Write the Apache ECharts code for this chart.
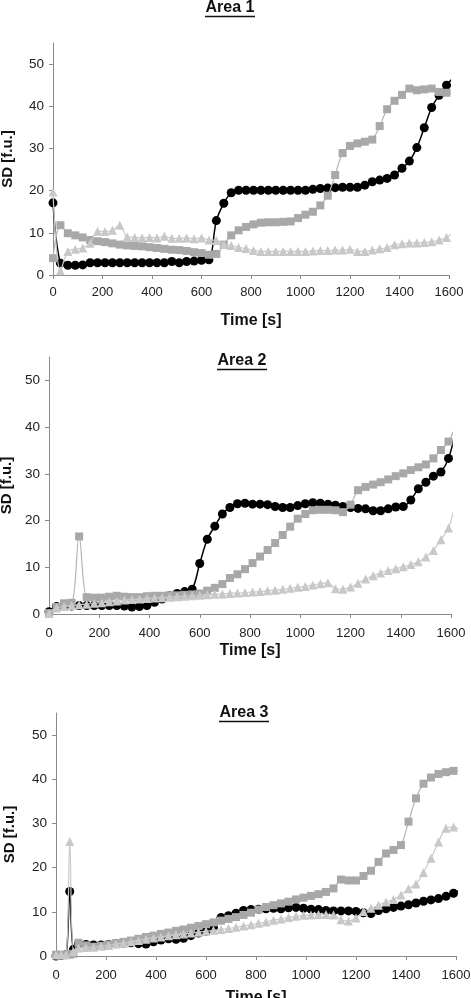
<!DOCTYPE html>
<html><head><meta charset="utf-8">
<script src="https://cdn.jsdelivr.net/npm/echarts@6/dist/echarts.min.js"></script>
<style>html,body{margin:0;padding:0;background:#fff}#c{width:471px;height:998px}</style>
</head><body><div id="c"></div>
<script>
// time stamps (s)
const T12 = [0,30,60,90,120,150,180,210,240,270,300,330,360,390,420,450,480,510,540,570,600,630,660,690,720,750,780,810,840,870,900,930,960,990,1020,1050,1080,1110,1140,1170,1200,1230,1260,1290,1320,1350,1380,1410,1440,1470,1500,1530,1560,1590,1615];
const T3 = [0,20,40,55,70,90,120,150,180,210,240,270,300,330,360,390,420,450,480,510,540,570,600,630,660,690,720,750,780,810,840,870,900,930,960,990,1020,1050,1080,1110,1140,1170,1200,1230,1260,1290,1320,1350,1380,1410,1440,1470,1500,1530,1560,1590,1615];

// Area 1
const A1_circle = [17.1,2.8,2.3,2.3,2.4,2.9,2.9,2.9,2.9,2.9, 2.9,2.9,2.9,2.9,2.9,2.9,3.2,2.9,3.2,3.3, 3.5,3.6,12.9,17.0,19.5,20.1,20.1,20.1,20.1,20.1, 20.1,20.1,20.1,20.1,20.1,20.3,20.5,20.6,20.7,20.8, 20.8,20.8,21.3,22.1,22.5,22.9,23.7,25.3,27.0,30.2, 34.9,39.7,42.6,45.0,46.6];
const A1_square = [4.0,11.8,9.9,9.4,8.9,8.3,8.0,7.8,7.5,7.2, 7.0,6.9,6.8,6.6,6.4,6.2,6.0,5.9,5.7,5.4, 5.2,4.8,5.0,7.2,9.4,10.6,11.4,12.0,12.4,12.5, 12.5,12.6,12.7,13.5,14.3,15.0,16.5,18.8,23.7,28.9, 30.6,31.2,31.6,32.1,35.3,39.3,41.3,42.7,44.2,43.8, 44.0,44.2,43.4,43.2,43.0];
const A1_triangle = [19.7,1.0,5.6,6.1,6.4,7.5,10.4,10.3,10.6,11.8, 9.0,8.9,8.8,8.9,8.8,9.2,8.7,8.7,8.8,8.6, 8.8,8.3,8.2,7.3,7.0,6.5,6.3,5.8,5.6,5.6, 5.6,5.6,5.6,5.6,5.6,5.7,5.8,5.8,5.9,5.9, 6.1,5.6,5.6,5.9,6.2,6.5,7.2,7.4,7.6,7.6, 7.7,7.9,8.3,8.9,10.0];

// Area 2
const A2_circle = [0.5,1.6,1.7,1.7,1.8,1.8,1.8,1.8,1.8,1.8, 1.7,1.5,1.6,1.8,2.5,3.2,3.9,4.4,4.8,5.3, 10.8,16.0,18.8,21.4,22.8,23.6,23.7,23.5,23.5,23.4, 23.0,22.8,22.8,23.2,23.6,23.8,23.7,23.5,23.3,23.0, 22.8,22.6,22.5,22.1,22.1,22.5,22.9,23.0,24.4,26.8, 28.2,29.5,30.4,33.3,38.4];
const A2_square = [0.2,1.5,2.3,2.4,16.6,3.6,3.5,3.5,3.7,3.9, 3.7,3.6,3.6,3.8,3.9,3.9,4.0,4.0,4.1,4.2, 4.4,5.0,5.6,6.4,7.7,8.5,9.6,10.9,12.3,13.7, 15.2,16.9,18.7,20.4,21.4,22.2,22.3,22.3,22.2,21.8, 23.4,26.5,27.2,27.7,28.2,28.8,29.5,30.1,30.8,31.4, 32.0,33.3,35.1,36.9,39.8];
const A2_triangle = [0.1,1.3,1.6,1.8,2.0,2.1,2.3,2.4,2.6,2.8, 3.0,3.1,3.2,3.3,3.4,3.5,3.6,3.7,3.8,3.9, 4.0,4.1,4.2,4.3,4.4,4.5,4.6,4.7,4.8,5.0, 5.1,5.3,5.5,5.7,5.9,6.2,6.5,6.7,5.4,5.3, 5.8,6.6,7.5,8.2,8.8,9.3,9.7,10.1,10.6,11.2, 12.2,13.6,15.9,18.4,23.1];

// Area 3
const A3_circle = [0.0,0.1,0.3,14.6,1.5,2.8, 2.6,2.5,2.5,2.6,2.8,2.9,3.0,2.8,2.7,3.2, 3.6,3.9,3.8,4.0,4.6,5.2,5.6,6.5,8.7,9.1, 9.7,10.3,10.5,10.6,10.7,10.8,10.7,10.9,11.0,10.8, 10.6,10.5,10.3,10.2,10.2,10.2,10.1,9.8,9.6,10.3, 10.7,11.0,11.3,11.6,12.0,12.4,12.7,13.0,13.5,14.2, 14.9];
const A3_square = [0.3,0.3,0.3,0.3,0.5,3.0, 2.4,2.1,2.3,2.6,2.9,3.2,3.5,3.9,4.3,4.6, 5.0,5.3,5.7,6.0,6.4,6.8,7.2,7.6,8.0,8.4, 8.8,9.3,9.8,10.5,11.1,11.5,11.9,12.3,12.8,13.2, 13.6,14.0,14.5,15.3,17.3,17.1,17.1,18.1,19.3,21.3, 23.2,24.0,25.1,30.4,35.7,39.0,40.4,41.2,41.6,41.9, 41.7];
const A3_triangle = [0.2,0.2,0.3,25.9,1.0,1.8, 1.9,2.0,2.2,2.4,2.7,2.9,3.2,3.5,3.8,4.1, 4.3,4.6,4.8,5.0,5.2,5.4,5.6,5.8,6.0,6.2, 6.5,6.8,7.1,7.4,7.7,8.1,8.4,8.7,9.0,9.2, 9.3,9.4,9.4,9.3,8.2,7.9,8.6,10.1,10.8,11.5, 12.2,12.8,13.8,15.2,16.3,18.9,22.1,25.8,28.9,29.2, 28.6];

const Y_TICKS = [0,10,20,30,40,50];
const X_LABEL = 'Time [s]';
const Y_LABEL = 'SD [f.u.]';
const TITLES = ['Area 1','Area 2','Area 3'];

const FONT = 'Liberation Sans, Arial, sans-serif';

function pts(T, V){
  return T.map((t,i)=> i === T.length-1 ? {value:[t,V[i]], symbol:'none'} : [t,V[i]]);
}

const grids = [
  {left:53, right:22, top:43, bottom:723, outerBoundsMode:'none', containLabel:false},
  {left:49, right:20, top:357, bottom:384, outerBoundsMode:'none', containLabel:false},
  {left:56, right:15, top:713, bottom:42, outerBoundsMode:'none', containLabel:false}
];
const xGaps = [38, 29, 34];
const yGaps = [38, 34, 39];

const xAxes = grids.map((g,i)=>({
  type:'value', gridIndex:i, min:0, max:1600, interval:200,
  axisLine:{lineStyle:{color:'#8a8a8a', width:1}},
  axisTick:{length:4, lineStyle:{color:'#8a8a8a'}},
  splitLine:{show:false},
  axisLabel:{color:'#222', fontSize:13, fontFamily:FONT, margin:i===0?11:13, formatter:(v)=>String(v)},
  name:X_LABEL, nameLocation:'middle', nameGap:xGaps[i],
  nameTextStyle:{fontWeight:'bold', fontSize:16, color:'#111', fontFamily:FONT}
}));
const yAxes = grids.map((g,i)=>({
  type:'value', gridIndex:i, min:0, max:55, interval:10,
  axisLine:{show:true, lineStyle:{color:'#8a8a8a', width:1}},
  axisTick:{show:true, length:4, lineStyle:{color:'#8a8a8a'}, customValues:Y_TICKS},
  splitLine:{show:false},
  axisLabel:{color:'#222', fontSize:13.5, fontFamily:FONT, margin:9, customValues:Y_TICKS, formatter:(v)=>String(v)},
  name:Y_LABEL, nameLocation:'middle', nameGap:yGaps[i], nameRotate:90,
  nameTextStyle:{fontWeight:'bold', fontSize:15, color:'#111', fontFamily:FONT}
}));

const panels = [
  [T12, A1_circle, A1_square, A1_triangle],
  [T12, A2_circle, A2_square, A2_triangle],
  [T3, A3_circle, A3_square, A3_triangle]
];
const series = [];
panels.forEach((p,i)=>{
  const T = p[0];
  series.push({type:'line', xAxisIndex:i, yAxisIndex:i, data:pts(T,p[1]), smooth:0.35, clip:false,
    symbol:'circle', symbolSize:9, itemStyle:{color:'#000'}, lineStyle:{color:'#000', width:1.5}, z:2});
  series.push({type:'line', xAxisIndex:i, yAxisIndex:i, data:pts(T,p[2]), smooth:0.35, clip:false,
    symbol:'rect', symbolSize:8, itemStyle:{color:'#a8a8a8'}, lineStyle:{color:'#b4b4b4', width:1.2}, z:3});
  series.push({type:'line', xAxisIndex:i, yAxisIndex:i, data:pts(T,p[3]), smooth:0.35, clip:false,
    symbol:'triangle', symbolSize:9, itemStyle:{color:'#c8c8c8'}, lineStyle:{color:'#cacaca', width:1.2}, z:4});
});

const titlePos = [[230,8],[242,361],[244,713]];
const graphic = [];
titlePos.forEach((p,i)=>{
  graphic.push({type:'text', x:p[0], y:p[1], style:{text:TITLES[i], fill:'#111', font:'bold 16px '+FONT, textAlign:'center', textVerticalAlign:'middle'}, z:10});
  graphic.push({type:'line', shape:{x1:p[0]-25, y1:p[1]+8.5, x2:p[0]+25, y2:p[1]+8.5}, style:{stroke:'#111', lineWidth:1.3}, z:10});
});

const chart = echarts.init(document.getElementById('c'));
chart.setOption({
  animation:false,
  backgroundColor:'#fff',
  grid:grids,
  xAxis:xAxes,
  yAxis:yAxes,
  series:series,
  graphic:graphic
});
</script></body></html>
